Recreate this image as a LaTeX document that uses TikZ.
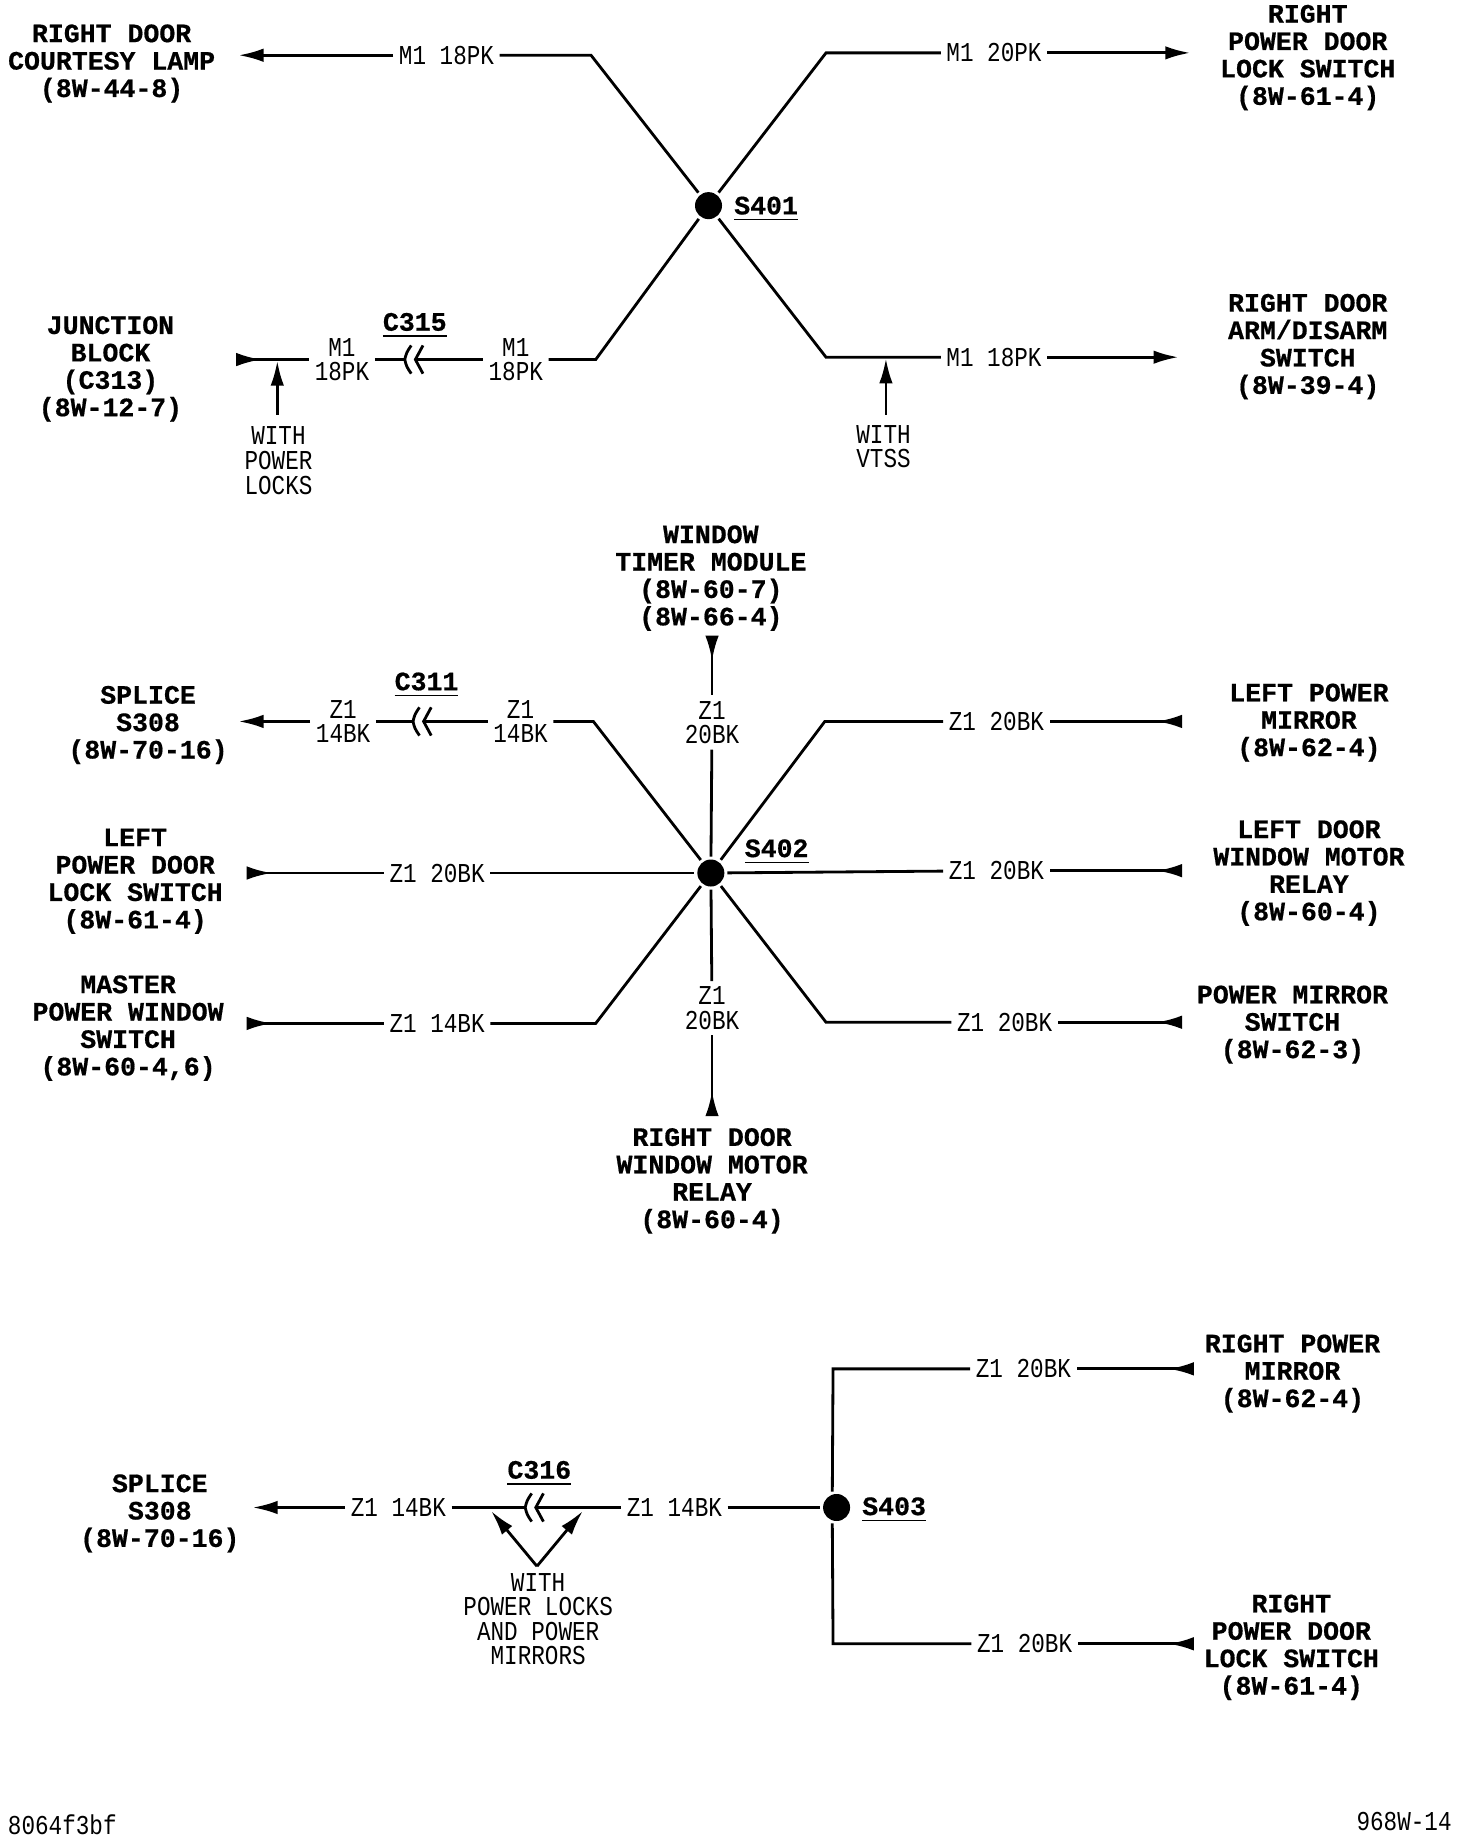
\documentclass[tikz,border=0pt]{standalone}
\usepackage{fontspec}
\usetikzlibrary{arrows.meta}
\newfontfamily\wirefont[FakeStretch=0.83]{Liberation Mono}
\newfontfamily\devfont[BoldFeatures={FakeBold=0.6}]{Liberation Mono}

\tikzstyle{device} = [align=center,inner sep=0,yshift=-0.235mm,font=\devfont\bfseries\fontsize{7.55}{7.8}\selectfont]
\tikzstyle{splicename} = [device]
\tikzstyle{wirelabel} = [align=center,inner sep=0.5mm,font=\wirefont\fontsize{7.76}{7}\selectfont]
\tikzstyle{note} = [align=center,inner sep=0,font=\wirefont\fontsize{7.76}{7}\selectfont]
\tikzstyle{splice} = [circle,fill=black,inner sep=0,minimum size=2.7mm,outer sep=0.3mm]
\tikzstyle{wire} = [line width=0.8pt]
\tikzstyle{tipaway} = [wire,-{Latex[length=2.5mm,width=1.35mm]}]
\tikzstyle{tiptoward} = [wire,{Latex[reversed,length=2.5mm,width=1.35mm]}-]
\tikzset{plug/.pic={
	\coordinate (-l) at (-4.5,0);
	\coordinate (-r) at (4.5,0);
	\draw[wire] (1,-12) .. controls (-3,-6) .. (-4.5,0) .. controls (-3,6) .. (1,12);
	\draw[wire] (11,-12) .. controls (7,-6) .. (4.5,0) .. controls (7,6) .. (11,12);
}}

\begin{document}
\begin{tikzpicture}[x=0.1175mm,y=-0.1175mm]
	\useasboundingbox (0,0) rectangle (1252.8,1567.7);

	% S401
	\node[splice] (s401) at (603,175) {};
	\node[splicename] (s401name) at (652,176) {\underline{S401}};

	\node[device] (lamp) at (95,52) {RIGHT DOOR\\COURTESY LAMP\\(8W-44-8)};
	\node[device] (lockr) at (1113,47) {RIGHT\\POWER DOOR\\LOCK SWITCH\\(8W-61-4)};
	\node[device] (jblock) at (94,312) {JUNCTION\\BLOCK\\(C313)\\(8W-12-7)};
	\node[device] (armsw) at (1113,293) {RIGHT DOOR\\ARM/DISARM\\SWITCH\\(8W-39-4)};

	\node[wirelabel] (w1) at (380,47) {M1 18PK};
	\node[wirelabel] (w2) at (846,45) {M1 20PK};
	\node[wirelabel] (w3) at (291,306) {M1\\18PK};
	\node[wirelabel] (w4) at (439,306) {M1\\18PK};
	\node[wirelabel] (w5) at (846,304) {M1 18PK};
	\node[splicename] (c315) at (353,275) {\underline{C315}};
	\pic (p315) at (349,306) {plug};

	\coordinate (e1) at (203,47);
	\coordinate (e2) at (1013,45);
	\coordinate (e3) at (201,306);
	\coordinate (e5) at (1003,304);
	\coordinate (b1) at (503,47);
	\coordinate (b2) at (703,45);
	\coordinate (b3) at (507,306);
	\coordinate (b5) at (703,304);

	\draw[tipaway] (w1) -- (e1);
	\draw[wire] (w1) -- (b1) -- (s401);
	\draw[tipaway] (w2) -- (e2);
	\draw[wire] (w2) -- (b2) -- (s401);
	\draw[tiptoward] (e3) -- (w3);
	\draw[wire] (w3) -- (p315-l);
	\draw[wire] (p315-r) -- (w4);
	\draw[wire] (w4) -- (b3) -- (s401);
	\draw[tipaway] (w5) -- (e5);
	\draw[wire] (w5) -- (b5) -- (s401);

	\node[note] (n1) at (237,392) {WITH\\POWER\\LOCKS};
	\node[note] (n2) at (752,380) {WITH\\VTSS};
	\coordinate (t1) at (236,307);
	\coordinate (t2) at (754,305);
	\coordinate (u1) at (236,353);
	\coordinate (u2) at (754,353);
	\draw[tipaway] (u1) -- (t1);
	\draw[tipaway] (u2) -- (t2);

	% S402
	\node[splice] (s402) at (605,743) {};
	\node[splicename] (s402name) at (661,723) {\underline{S402}};

	\node[device] (timer) at (605,490) {WINDOW\\TIMER MODULE\\(8W-60-7)\\(8W-66-4)};
	\node[device] (spla) at (126,615) {SPLICE\\S308\\(8W-70-16)};
	\node[device] (lockl) at (115,748) {LEFT\\POWER DOOR\\LOCK SWITCH\\(8W-61-4)};
	\node[device] (master) at (109,873) {MASTER\\POWER WINDOW\\SWITCH\\(8W-60-4,6)};
	\node[device] (relayr) at (606,1003) {RIGHT DOOR\\WINDOW MOTOR\\RELAY\\(8W-60-4)};
	\node[device] (mirrl) at (1114,613) {LEFT POWER\\MIRROR\\(8W-62-4)};
	\node[device] (relayl) at (1114,741) {LEFT DOOR\\WINDOW MOTOR\\RELAY\\(8W-60-4)};
	\node[device] (mirrsw) at (1100,870) {POWER MIRROR\\SWITCH\\(8W-62-3)};

	\node[wirelabel] (z1) at (606,615) {Z1\\20BK};
	\node[wirelabel] (z2) at (292,614) {Z1\\14BK};
	\node[wirelabel] (z3) at (443,614) {Z1\\14BK};
	\node[wirelabel] (z4) at (372,743) {Z1 20BK};
	\node[wirelabel] (z5) at (372,871) {Z1 14BK};
	\node[wirelabel] (z6) at (606,858) {Z1\\20BK};
	\node[wirelabel] (z7) at (848,614) {Z1 20BK};
	\node[wirelabel] (z8) at (848,741) {Z1 20BK};
	\node[wirelabel] (z9) at (855,870) {Z1 20BK};
	\node[splicename] (c311) at (363,581) {\underline{C311}};
	\pic (p311) at (356,614) {plug};

	\coordinate (f1) at (606,541);
	\coordinate (f2) at (203,614);
	\coordinate (f4) at (210,743);
	\coordinate (f5) at (210,871);
	\coordinate (f6) at (606,950);
	\coordinate (f7) at (1006,614);
	\coordinate (f8) at (1006,741);
	\coordinate (f9) at (1006,870);
	\coordinate (d3) at (505,614);
	\coordinate (d5) at (507,871);
	\coordinate (d7) at (702,614);
	\coordinate (d9) at (703,870);

	\draw[tiptoward] (f1) -- (z1);
	\draw[wire] (z1) -- (s402);
	\draw[tipaway] (z2) -- (f2);
	\draw[wire] (z2) -- (p311-l);
	\draw[wire] (p311-r) -- (z3);
	\draw[wire] (z3) -- (d3) -- (s402);
	\draw[tiptoward] (f4) -- (z4);
	\draw[wire] (z4) -- (s402);
	\draw[tiptoward] (f5) -- (z5);
	\draw[wire] (z5) -- (d5) -- (s402);
	\draw[tiptoward] (f6) -- (z6);
	\draw[wire] (z6) -- (s402);
	\draw[tiptoward] (f7) -- (z7);
	\draw[wire] (z7) -- (d7) -- (s402);
	\draw[tiptoward] (f8) -- (z8);
	\draw[wire] (z8) -- (s402);
	\draw[tiptoward] (f9) -- (z9);
	\draw[wire] (z9) -- (d9) -- (s402);

	% S403
	\node[splice] (s403) at (712,1283) {};
	\node[splicename] (s403name) at (761,1283) {\underline{S403}};

	\node[device] (splb) at (136,1286) {SPLICE\\S308\\(8W-70-16)};
	\node[device] (mirrr) at (1100,1167) {RIGHT POWER\\MIRROR\\(8W-62-4)};
	\node[device] (lockb) at (1099,1400) {RIGHT\\POWER DOOR\\LOCK SWITCH\\(8W-61-4)};

	\node[wirelabel] (y1) at (339,1283) {Z1 14BK};
	\node[wirelabel] (y2) at (574,1283) {Z1 14BK};
	\node[wirelabel] (y3) at (871,1165) {Z1 20BK};
	\node[wirelabel] (y4) at (872,1399) {Z1 20BK};
	\node[splicename] (c316) at (459,1252) {\underline{C316}};
	\pic (p316) at (451.5,1283) {plug};

	\coordinate (g1) at (215,1283);
	\coordinate (g3) at (1016,1165);
	\coordinate (g4) at (1016,1399);
	\coordinate (h3) at (709,1165);
	\coordinate (h4) at (709,1399);

	\draw[tipaway] (y1) -- (g1);
	\draw[wire] (y1) -- (p316-l);
	\draw[wire] (p316-r) -- (y2);
	\draw[wire] (y2) -- (s403);
	\draw[tiptoward] (g3) -- (y3);
	\draw[wire] (y3) -- (h3) -- (s403.105);
	\draw[tiptoward] (g4) -- (y4);
	\draw[wire] (y4) -- (h4) -- (s403.255);

	\node[note] (n3) at (458,1378) {WITH\\POWER LOCKS\\AND POWER\\MIRRORS};
	\coordinate (v) at (457,1333);
	\coordinate (t3) at (418,1286);
	\coordinate (t4) at (496,1286);
	\draw[tipaway] (v) -- (t3);
	\draw[tipaway] (v) -- (t4);

	\node[note] (tagl) at (53,1553) {8064f3bf};
	\node[note] (tagr) at (1195,1550) {968W-14};
\end{tikzpicture}
\end{document}
